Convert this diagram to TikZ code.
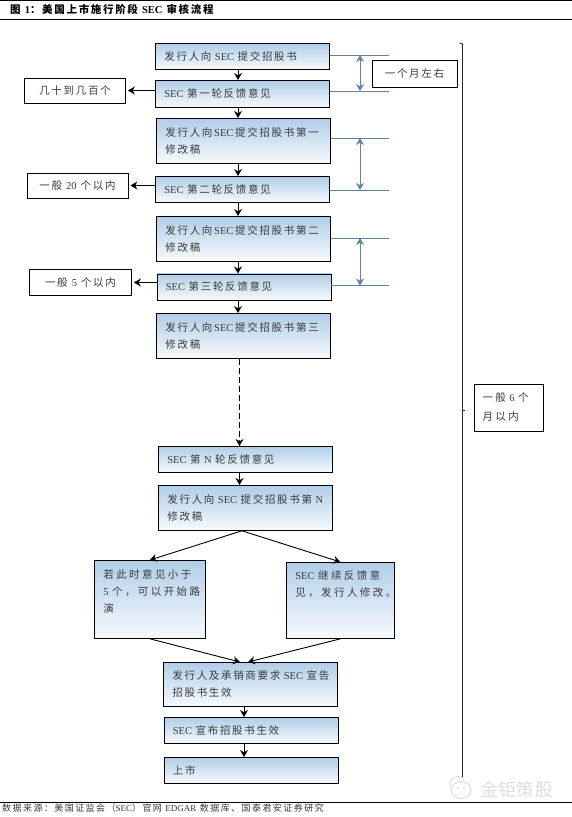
\documentclass[tikz,border=0pt]{standalone}
\usepackage{fontspec}
\setmainfont{Noto Sans CJK SC}[LetterSpace=16]
\newfontfamily\cjkwide{Noto Sans CJK SC}[LetterSpace=23]
\newfontfamily\latinfont{Liberation Serif}
\newcommand{\lat}[1]{{\latinfont #1}}
\usetikzlibrary{calc, arrows.meta, shadings}
\definecolor{boxblue}{HTML}{B0CEE8}
\definecolor{boxpale}{HTML}{F7FAFD}
\definecolor{textgrey}{HTML}{3A3A3A}
\definecolor{measureblue}{HTML}{64809F}
\definecolor{markgrey}{HTML}{DEDEDE}
\tikzset{
  plainbox/.style={draw=black, line width=0.8pt, text=textgrey, inner sep=0pt, align=center,
    font=\fontsize{10.5}{17}\selectfont},
  flowbox/.style={plainbox, top color=boxblue, bottom color=boxpale, anchor=north west,
    align=left, inner xsep=9pt},
  mainbox/.style={flowbox, text width=156pt},
  flowarrow/.style={-{Stealth[length=7pt,width=8pt]}, line width=0.9pt, black},
  measureline/.style={line width=0.7pt, measureblue},
  measurearrow/.style={{Stealth[length=7pt,width=8pt]}-{Stealth[length=7pt,width=8pt]}, line width=0.8pt, measureblue},
}
\begin{document}
\begin{tikzpicture}[x=1pt, y=-1pt]
  \useasboundingbox (0,0) rectangle (572,817);

  \coordinate (axis) at (238,0);
  \coordinate (axismid) at (239.5,0);
  \coordinate (axislow) at (244,0);
  \coordinate (measure) at (360,0);

  \node[mainbox, minimum height=26pt] (first) at (155,43) {发行人向 \lat{SEC} 提交招股书};
  \node[mainbox, minimum height=27pt] (round one) at (155,80) {\lat{SEC} 第一轮反馈意见};
  \node[mainbox, minimum height=45pt] (draft one) at (156,118) {发行人向\,\lat{SEC}\,提交招股书第一\\修改稿};
  \node[mainbox, minimum height=26pt] (round two) at (155,176) {\lat{SEC} 第二轮反馈意见};
  \node[mainbox, minimum height=45pt] (draft two) at (156,216) {发行人向\,\lat{SEC}\,提交招股书第二\\修改稿};
  \node[mainbox, minimum height=26pt] (round three) at (156.5,273.5) {\lat{SEC} 第三轮反馈意见};
  \node[mainbox, minimum height=45pt] (draft three) at (156,313) {发行人向\,\lat{SEC}\,提交招股书第三\\修改稿};
  \node[mainbox, minimum height=26pt] (round n) at (158,446) {\lat{SEC} 第 \lat{N} 轮反馈意见};
  \node[mainbox, minimum height=45pt] (draft n) at (158,485) {发行人向~\lat{SEC}~提交招股书第~\lat{N}\\修改稿};
  \node[flowbox, text width=93pt, minimum height=78pt] (roadshow) at (94,560) {\cjkwide 若此时意见小于\\\lat{5}~个，可以开始路\\演\\ \ };
  \node[flowbox, text width=90pt, minimum height=76pt] (revise) at (286,562) {\cjkwide \lat{SEC}~继续反馈意\\见，发行人修改。\\ \ \\ \ };
  \node[mainbox, minimum height=44pt] (request) at (163,662) {发行人及承销商要求~\lat{SEC}~宣告\\招股书生效};
  \node[mainbox, minimum height=26pt] (effective) at (163.5,717) {\lat{SEC} 宣布招股书生效};
  \node[mainbox, minimum height=26pt] (listed) at (163.5,757) {上市};

  \node[plainbox, minimum width=101pt, minimum height=25pt] (note one) at (75,90.5) {几十到几百个};
  \node[plainbox, minimum width=101pt, minimum height=25pt] (note two) at (77.5,185.5) {一般 \lat{20} 个以内};
  \node[plainbox, minimum width=102pt, minimum height=26pt] (note three) at (80.5,282.5) {一般 \lat{5} 个以内};
  \node[plainbox, minimum width=85pt, minimum height=27pt] (month) at (414.5,73.5) {一个月左右};
  \node[plainbox, minimum width=69pt, minimum height=47pt, text width=52pt, align=left,
    font=\fontsize{10.5}{19}\selectfont] (six months) at (508.5,407.5) {\cjkwide 一般~\lat{6}~个\\月以内};

  \draw[flowarrow] (first.south -| axis) -- (round one.north -| axis);
  \draw[flowarrow] (round one.south -| axis) -- (draft one.north -| axis);
  \draw[flowarrow] (draft one.south -| axis) -- (round two.north -| axis);
  \draw[flowarrow] (round two.south -| axis) -- (draft two.north -| axis);
  \draw[flowarrow] (draft two.south -| axis) -- (round three.north -| axis);
  \draw[flowarrow] (round three.south -| axis) -- (draft three.north -| axis);
  \draw[flowarrow, dash pattern=on 6pt off 3pt] (draft three.south -| axismid) -- (round n.north -| axismid);
  \draw[flowarrow] (round n.south -| axismid) -- (draft n.north -| axismid);
  \coordinate (split) at ($(draft n.south)+(-3.5,0)$);
  \draw[flowarrow] (split) -- (roadshow.north);
  \draw[flowarrow] (split) -- (revise.north);
  \coordinate (merge left) at (240,662);
  \coordinate (merge right) at (248,662);
  \draw[flowarrow] (roadshow.south) -- (merge left);
  \draw[flowarrow] (revise.south) -- (merge right);
  \draw[flowarrow] (request.south -| axislow) -- (effective.north -| axislow);
  \draw[flowarrow] (effective.south -| axislow) -- (listed.north -| axislow);

  \draw[flowarrow] (round one.west |- note one) -- ($(note one.east)+(2,0)$);
  \draw[flowarrow] (round two.west |- note two) -- ($(note two.east)+(2,0)$);
  \draw[flowarrow] (round three.west |- note three) -- ($(note three.east)+(2,0)$);

  \coordinate (gap one top) at (389,55);
  \coordinate (gap one end) at (389,91);
  \coordinate (gap two top) at (389,138);
  \coordinate (gap two end) at (389,190);
  \coordinate (gap three top) at (389,238);
  \coordinate (gap three end) at (389,285.5);
  \draw[measureline] (first.east |- gap one top) -- (gap one top);
  \draw[measureline] (round one.east |- gap one end) -- (gap one end);
  \draw[measureline] (draft one.east |- gap two top) -- (gap two top);
  \draw[measureline] (round two.east |- gap two end) -- (gap two end);
  \draw[measureline] (draft two.east |- gap three top) -- (gap three top);
  \draw[measureline] (round three.east |- gap three end) -- (gap three end);
  \draw[measurearrow] (gap one top -| measure) -- (gap one end -| measure);
  \draw[measurearrow] (gap two top -| measure) -- (gap two end -| measure);
  \draw[measurearrow] (gap three top -| measure) -- (gap three end -| measure);

  \coordinate (span top) at (462.5,44);
  \coordinate (span end) at (462.5,777);
  \draw[line width=0.9pt, black!85] (459.5,43) -- (span top) -- (span end);
  \draw[line width=0.9pt, black!85] (span top |- six months) ++(0,2.5) -- ++(2.5,0);

  \draw[line width=0.7pt] (0,0.5) -- (572,0.5);
  \draw[line width=0.9pt] (0,19) -- (572,19);
  \draw[line width=0.9pt] (0,802) -- (572,802);
  \node[anchor=west, inner sep=0pt, font=\fontsize{10.5}{12}\bfseries\selectfont] (title) at (10,9)
    {图 \lat{1}：美国上市施行阶段 \lat{SEC} 审核流程};
  \node[anchor=west, inner sep=0pt, text=textgrey, font=\fontsize{9}{10}\selectfont] (source) at (2,808.5)
    {数据来源：美国证监会（\lat{SEC}）官网 \lat{EDGAR} 数据库、国泰君安证券研究};

  \draw[line width=1.1pt, markgrey] (450,786) arc[start angle=190, end angle=60, radius=8pt] -- (464,778);
  \draw[line width=1.1pt, markgrey, fill=white] (461,790) circle[x radius=10pt, y radius=8.5pt];
  \fill[markgrey] (458,788) circle[radius=1.1pt] (464,788) circle[radius=1.1pt];
  \node[anchor=west, inner sep=0pt, text=markgrey, font=\fontsize{18}{20}\selectfont] (mark) at (480,790) {\addfontfeature{LetterSpace=2}金钜策股};
\end{tikzpicture}
\end{document}
